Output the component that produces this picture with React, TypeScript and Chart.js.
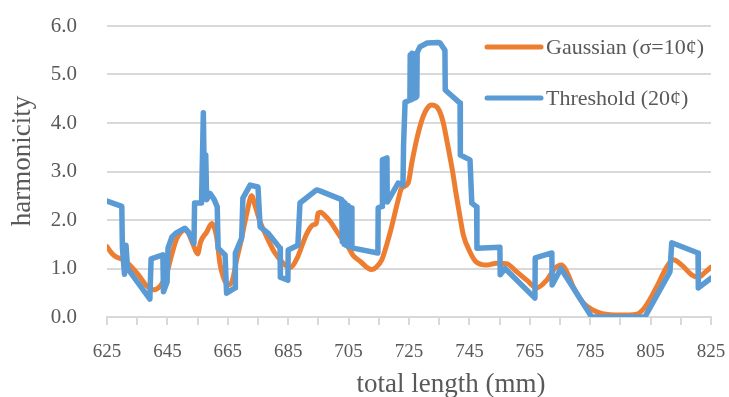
import React, { useEffect, useRef } from "react";
import { Chart, registerables } from "chart.js";

Chart.register(...registerables);

const xTicks = [625, 635, 645, 655, 665, 675, 685, 695, 705, 715, 725, 735, 745, 755, 765, 775, 785, 795, 805, 815, 825];
const yTicks = [0, 1, 2, 3, 4, 5, 6];

const seriesNames = ["Gaussian (σ=10¢)", "Threshold (20¢)"];

const gaussX = [625, 626.5, 628, 630, 632, 634, 636, 638, 640.5, 642, 643.5, 645, 646.5, 648, 649.5, 650.8, 652, 653.5, 655, 656, 658, 659.7, 660.5, 661.3, 662.4, 663.5, 665, 666.5, 668, 669.5, 671.3, 672.9, 674, 675.7, 677.9, 680.6, 684, 685.6, 688, 691, 693.2, 694.3, 694.9, 695.8, 697, 698.8, 702.2, 704.4, 706.5, 708.8, 712.5, 714, 716, 718.7, 721.4, 722.5, 724.7, 726, 727.5, 729.6, 731, 732.5, 734.6, 736.3, 737.8, 739.3, 740.7, 741.9, 743, 745.2, 747, 750.7, 754, 757.3, 760.7, 764, 767.3, 770.6, 773.3, 775.6, 777.5, 779.4, 782.7, 786, 789, 795, 800.4, 803, 807, 810.3, 812.5, 815.3, 818.6, 820.8, 823, 825];
const gaussY = [1.45, 1.32, 1.24, 1.19, 1.1, 0.97, 0.82, 0.65, 0.56, 0.6, 0.72, 0.95, 1.3, 1.6, 1.75, 1.8, 1.72, 1.5, 1.3, 1.55, 1.75, 1.93, 1.85, 1.65, 1.1, 0.82, 0.66, 0.75, 1.2, 1.6, 2.14, 2.5, 2.3, 1.96, 1.65, 1.32, 1.07, 1.02, 1.22, 1.7, 1.9, 1.93, 2.14, 2.16, 2.1, 1.98, 1.66, 1.5, 1.27, 1.15, 0.98, 1.02, 1.18, 1.73, 2.41, 2.65, 2.76, 3.2, 3.65, 4.12, 4.3, 4.37, 4.3, 4.02, 3.55, 3.05, 2.5, 2.06, 1.69, 1.34, 1.15, 1.07, 1.11, 1.1, 0.93, 0.76, 0.6, 0.76, 1.0, 1.07, 0.9, 0.62, 0.29, 0.14, 0.07, 0.04, 0.06, 0.19, 0.62, 1.03, 1.18, 1.07, 0.87, 0.82, 0.92, 1.03];

const threshX = [625, 629.9, 630.1, 630.8, 631.3, 631.8, 639.2, 639.6, 643.5, 643.7, 644.9, 645.2, 646.5, 647.8, 650.8, 652, 653.8, 654, 656.3, 656.9, 657.3, 657.7, 658, 659.1, 660.5, 661.5, 661.8, 664.1, 664.6, 667.4, 667.5, 669.6, 670, 672.4, 675, 675.7, 678.3, 682.3, 682.4, 684.9, 685, 688.2, 688.9, 694.4, 695.5, 702.7, 702.9, 703.2, 703.5, 703.8, 704.1, 704.5, 704.8, 705.1, 705.4, 705.8, 706.1, 706.5, 714.7, 714.8, 716.1, 716.2, 717.7, 717.8, 721.4, 723, 723.2, 723.7, 725.3, 725.4, 725.7, 726, 726.4, 726.8, 727.2, 727.6, 727.7, 728.6, 731, 734.6, 735.3, 736.9, 737, 741.9, 742, 745.2, 745.8, 747.4, 747.5, 755.1, 755.2, 756.8, 766.7, 766.8, 772.3, 772.4, 775.3, 785.5, 803.1, 811.4, 812, 820.7, 820.8, 825];
const threshY = [2.39, 2.28, 1.42, 0.88, 1.48, 1.0, 0.37, 1.2, 1.28, 0.52, 0.72, 1.42, 1.65, 1.73, 1.83, 1.75, 1.52, 2.35, 2.35, 4.21, 2.45, 3.34, 2.42, 2.55, 2.42, 2.27, 1.42, 1.28, 0.49, 0.6, 1.32, 1.63, 2.45, 2.72, 2.68, 1.86, 1.73, 1.42, 0.82, 0.76, 1.38, 1.48, 2.35, 2.62, 2.6, 2.42, 1.55, 2.38, 1.5, 2.35, 1.48, 2.3, 1.46, 2.28, 1.45, 2.25, 1.44, 1.42, 1.32, 2.25, 2.28, 3.24, 3.28, 2.37, 2.76, 2.72, 3.55, 4.43, 4.47, 5.4, 4.48, 5.44, 4.5, 5.42, 4.52, 4.55, 5.45, 5.57, 5.65, 5.66, 5.65, 5.5, 4.68, 4.41, 3.34, 3.24, 2.35, 2.27, 1.42, 1.44, 0.87, 1.0, 0.39, 1.22, 1.32, 0.66, 1.0, 0.0, 0.0, 0.93, 1.53, 1.32, 0.6, 0.8];

const ORANGE = "#ED7D31";
const BLUE = "#5B9BD5";
const TEXT = "#595959";
const GRID = "#D9D9D9";
const FONT = "'Liberation Serif', serif";

const overlayPlugin = {
  id: "overlay",
  afterDraw(chart: any) {
    const ctx = chart.ctx;
    ctx.save();
    ctx.fillStyle = TEXT;
    ctx.font = `27px ${FONT}`;
    ctx.textAlign = "center";
    ctx.textBaseline = "alphabetic";
    ctx.fillText("total length (mm)", 451, 392);
    ctx.translate(30, 161);
    ctx.rotate(-Math.PI / 2);
    ctx.fillText("harmonicity", 0, 0);
    ctx.restore();

    ctx.save();
    const items = chart.data.datasets
      .map((d: any) => ({ label: d.label, color: d.borderColor }))
      .sort((a: any, b: any) => seriesNames.indexOf(a.label) - seriesNames.indexOf(b.label));
    items.forEach((it: any, i: number) => {
      const y = 47 + i * 51;
      ctx.strokeStyle = it.color;
      ctx.lineWidth = 5;
      ctx.lineCap = "round";
      ctx.beginPath();
      ctx.moveTo(487, y);
      ctx.lineTo(541, y);
      ctx.stroke();
      ctx.fillStyle = TEXT;
      ctx.font = `22px ${FONT}`;
      ctx.textAlign = "left";
      ctx.textBaseline = "alphabetic";
      ctx.fillText(it.label, 546, y + 7);
    });
    ctx.restore();
  },
};

export default function App() {
  const ref = useRef<HTMLCanvasElement>(null);
  useEffect(() => {
    if (!ref.current) return;
    const chart = new Chart(ref.current, {
      type: "line",
      data: {
        datasets: [
          {
            label: seriesNames[0],
            data: gaussX.map((x, i) => ({ x, y: gaussY[i] })),
            borderColor: ORANGE,
            backgroundColor: ORANGE,
            borderWidth: 5,
            pointRadius: 0,
            cubicInterpolationMode: "monotone",
            borderJoinStyle: "round",
            borderCapStyle: "round",
            order: 1,
          },
          {
            label: seriesNames[1],
            data: threshX.map((x, i) => ({ x, y: threshY[i] })),
            borderColor: BLUE,
            backgroundColor: BLUE,
            borderWidth: 5.5,
            pointRadius: 0,
            tension: 0,
            borderJoinStyle: "round",
            borderCapStyle: "round",
            order: 0,
          },
        ],
      },
      options: {
        animation: false,
        responsive: false,
        layout: { autoPadding: false, padding: { top: 26, right: 18, left: 0, bottom: 0 } },
        plugins: { legend: { display: false }, tooltip: { enabled: false } },
        scales: {
          x: {
            type: "linear",
            min: 625,
            max: 825,
            afterBuildTicks: (s: any) => {
              s.ticks = xTicks.map((v) => ({ value: v }));
            },
            afterFit: (s: any) => {
              s.height = 80;
              s.paddingLeft = 0;
              s.paddingRight = 0;
            },
            ticks: {
              autoSkip: false,
              maxRotation: 0,
              color: TEXT,
              font: { family: FONT, size: 19 },
              padding: 16,
              callback: (v: any) => ((Number(v) - 625) % 20 === 0 ? String(v) : ""),
            },
            grid: { drawOnChartArea: false, drawTicks: true, tickLength: 8, color: GRID, lineWidth: 2 },
            border: { display: true, color: GRID, width: 2 },
          },
          y: {
            min: 0,
            max: 6,
            afterBuildTicks: (s: any) => {
              s.ticks = yTicks.map((v) => ({ value: v }));
            },
            afterFit: (s: any) => {
              s.width = 107;
              s.paddingTop = 0;
              s.paddingBottom = 0;
            },
            ticks: {
              color: TEXT,
              font: { family: FONT, size: 21 },
              padding: 30,
              callback: (v: any) => Number(v).toFixed(1),
            },
            grid: { drawTicks: false, color: GRID, lineWidth: 2 },
            border: { display: false },
          },
        },
      },
      plugins: [overlayPlugin],
    });
    return () => chart.destroy();
  }, []);
  return (
    <div style={{ position: "absolute", left: 0, top: 0, width: 729, height: 397, background: "#fff" }}>
      <canvas ref={ref} width={729} height={397} />
    </div>
  );
}
